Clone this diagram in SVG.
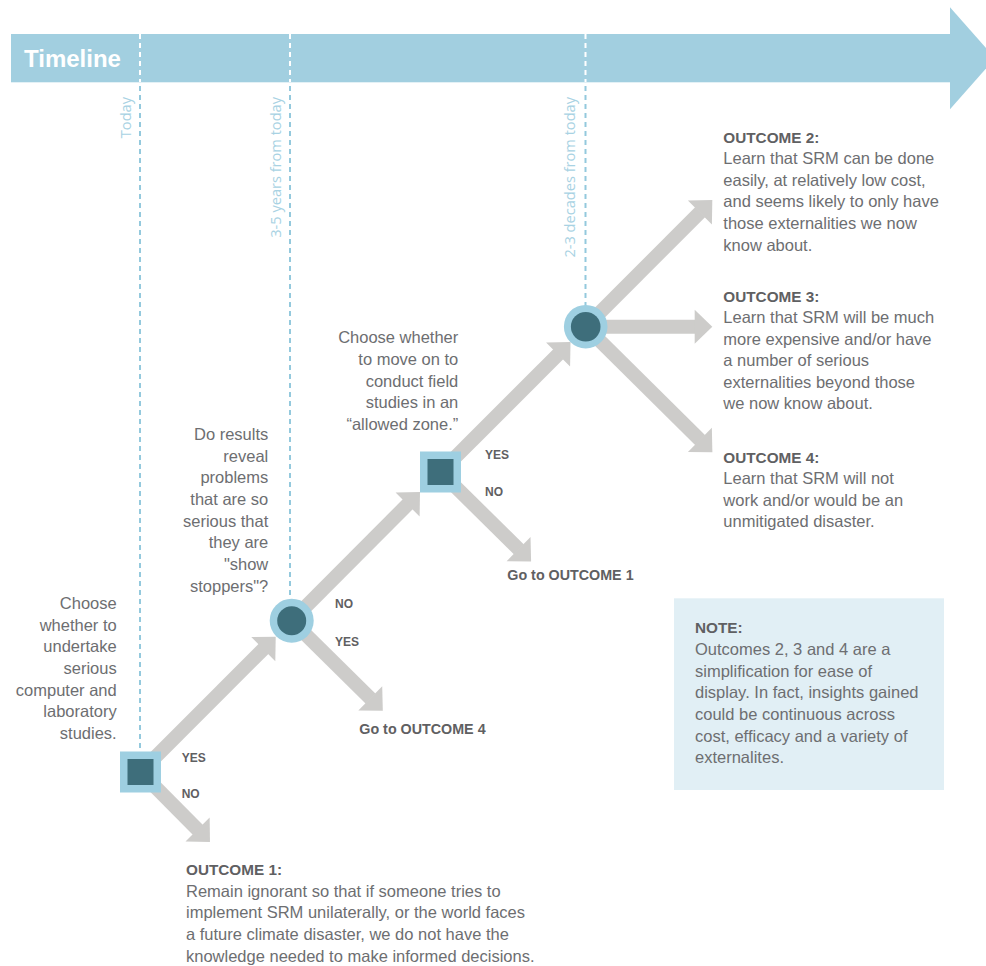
<svg xmlns="http://www.w3.org/2000/svg" width="986" height="966" viewBox="0 0 986 966">
<style>
  .body { font-family: "Liberation Sans", Arial, sans-serif; font-size: 16.5px; fill: #6d6e71; }
  .hdr { font-family: "Liberation Sans", Arial, sans-serif; font-size: 15.3px; font-weight: bold; fill: #5f6062; }
  .go { font-family: "Liberation Sans", Arial, sans-serif; font-size: 14.3px; font-weight: bold; fill: #5f6062; }
  .yn { font-family: "Liberation Sans", Arial, sans-serif; font-size: 12px; font-weight: bold; fill: #5f6062; }
  .time { font-family: "Open Sans", "Liberation Sans", sans-serif; font-size: 14.6px; fill: #a8d2e3; }
  .end { text-anchor: end; }
  .arrow { stroke: #cdccca; stroke-width: 14; fill: none; marker-end: url(#head); }
  .dashW { stroke: #ffffff; stroke-width: 2; stroke-dasharray: 5 4; }
  .dashB { stroke: #94c9dd; stroke-width: 2; stroke-dasharray: 5 4; }
  .outer { fill: #9ecfe1; }
  .inner { fill: #3e6e7b; }
</style>
<defs>
  <marker id="head" markerUnits="userSpaceOnUse" markerWidth="20" markerHeight="36" viewBox="-1 -18 20 36" refX="0" refY="0" orient="auto" overflow="visible">
    <path d="M-0.6,-17 L17,0 L-0.6,17 Z" fill="#cdccca"/>
  </marker>
</defs>

<g id="timeline">
  <rect x="11" y="34" width="940" height="48.3" fill="#a2cfe0"/>
  <polygon points="950,7.3 995,58.3 950,109.3" fill="#a2cfe0"/>
  <text x="24" y="67" font-family="'Liberation Sans', Arial, sans-serif" font-size="24" font-weight="bold" fill="#ffffff">Timeline</text>
  <line class="dashW" x1="140" y1="34" x2="140" y2="82"/>
  <line class="dashW" x1="290" y1="34" x2="290" y2="82"/>
  <line class="dashW" x1="585.5" y1="34" x2="585.5" y2="82"/>
  <line class="dashB" x1="140" y1="86" x2="140" y2="752"/>
  <line class="dashB" x1="290" y1="86" x2="290" y2="600"/>
  <line class="dashB" x1="585.5" y1="86" x2="585.5" y2="306"/>
  <text class="time end" transform="translate(130.5,97) rotate(-90)">Today</text>
  <text class="time end" transform="translate(280.5,97) rotate(-90)">3-5 years from today</text>
  <text class="time end" transform="translate(575,97) rotate(-90)">2-3 decades from today</text>
</g>

<g id="connectors">
  <line class="arrow" x1="140.5" y1="772" x2="263.7" y2="648.7"/>
  <line class="arrow" x1="140.5" y1="772" x2="198" y2="830"/>
  <line class="arrow" x1="291.7" y1="620.7" x2="408" y2="504"/>
  <line class="arrow" x1="291.7" y1="620.7" x2="370.7" y2="698.7"/>
  <line class="arrow" x1="440.5" y1="472" x2="558.5" y2="354"/>
  <line class="arrow" x1="440.5" y1="472" x2="519" y2="549.5"/>
  <line class="arrow" x1="585.7" y1="326.7" x2="700.3" y2="212"/>
  <line class="arrow" x1="585.7" y1="326.7" x2="695.3" y2="326.7"/>
  <line class="arrow" x1="585.7" y1="326.7" x2="700.3" y2="440.3"/>
</g>

<g id="node-decision1">
  <rect class="outer" x="120" y="751.5" width="41" height="41"/>
  <rect class="inner" x="127.5" y="759" width="26" height="26"/>
  <text class="body end" x="116.7" y="609">Choose</text>
  <text class="body end" x="116.7" y="630.7">whether to</text>
  <text class="body end" x="116.7" y="652.3">undertake</text>
  <text class="body end" x="116.7" y="674">serious</text>
  <text class="body end" x="116.7" y="695.7">computer and</text>
  <text class="body end" x="116.7" y="717.3">laboratory</text>
  <text class="body end" x="116.7" y="739">studies.</text>
  <text class="yn" x="181.7" y="761.7">YES</text>
  <text class="yn" x="181.7" y="797.7">NO</text>
</g>

<g id="node-chance1">
  <circle class="outer" cx="291.7" cy="620.7" r="22"/>
  <circle class="inner" cx="291.7" cy="620.7" r="14.5"/>
  <text class="body end" x="268.3" y="440">Do results</text>
  <text class="body end" x="268.3" y="461.7">reveal</text>
  <text class="body end" x="268.3" y="483.3">problems</text>
  <text class="body end" x="268.3" y="505">that are so</text>
  <text class="body end" x="268.3" y="526.7">serious that</text>
  <text class="body end" x="268.3" y="548.3">they are</text>
  <text class="body end" x="268.3" y="570">"show</text>
  <text class="body end" x="268.3" y="591.7">stoppers"?</text>
  <text class="yn" x="335" y="607.7">NO</text>
  <text class="yn" x="335" y="645.7">YES</text>
</g>

<g id="node-decision2">
  <rect class="outer" x="420" y="451.5" width="41" height="41"/>
  <rect class="inner" x="427.5" y="459" width="26" height="26"/>
  <text class="body end" x="458.3" y="343.3">Choose whether</text>
  <text class="body end" x="458.3" y="365">to move on to</text>
  <text class="body end" x="458.3" y="386.7">conduct field</text>
  <text class="body end" x="458.3" y="408.3">studies in an</text>
  <text class="body end" x="458.3" y="430">“allowed zone.”</text>
  <text class="yn" x="485" y="459.3">YES</text>
  <text class="yn" x="485" y="495.7">NO</text>
</g>

<g id="node-chance2">
  <circle class="outer" cx="585.7" cy="326.7" r="21.8"/>
  <circle class="inner" cx="585.7" cy="326.7" r="14.8"/>
</g>

<g id="goto-outcome4">
  <text class="go" x="359.3" y="734.3">Go to OUTCOME 4</text>
</g>
<g id="goto-outcome1">
  <text class="go" x="507.3" y="580">Go to OUTCOME 1</text>
</g>

<g id="outcome1">
  <text class="hdr" x="186" y="875">OUTCOME 1:</text>
  <text class="body" x="186" y="896.7">Remain ignorant so that if someone tries to</text>
  <text class="body" x="186" y="918.3">implement SRM unilaterally, or the world faces</text>
  <text class="body" x="186" y="940">a future climate disaster, we do not have the</text>
  <text class="body" x="186" y="961.7">knowledge needed to make informed decisions.</text>
</g>

<g id="outcome2">
  <text class="hdr" x="723.3" y="142.7">OUTCOME 2:</text>
  <text class="body" x="723.3" y="164">Learn that SRM can be done</text>
  <text class="body" x="723.3" y="185.7">easily, at relatively low cost,</text>
  <text class="body" x="723.3" y="207.3">and seems likely to only have</text>
  <text class="body" x="723.3" y="229">those externalities we now</text>
  <text class="body" x="723.3" y="250.7">know about.</text>
</g>

<g id="outcome3">
  <text class="hdr" x="723.3" y="301.7">OUTCOME 3:</text>
  <text class="body" x="723.3" y="323">Learn that SRM will be much</text>
  <text class="body" x="723.3" y="344.5">more expensive and/or have</text>
  <text class="body" x="723.3" y="366">a number of serious</text>
  <text class="body" x="723.3" y="387.7">externalities beyond those</text>
  <text class="body" x="723.3" y="409.3">we now know about.</text>
</g>

<g id="outcome4">
  <text class="hdr" x="723.3" y="462.7">OUTCOME 4:</text>
  <text class="body" x="723.3" y="484">Learn that SRM will not</text>
  <text class="body" x="723.3" y="505.7">work and/or would be an</text>
  <text class="body" x="723.3" y="527.3">unmitigated disaster.</text>
</g>

<g id="note">
  <rect x="674" y="598.3" width="270" height="191.7" fill="#e1eff5"/>
  <text class="hdr" x="695" y="633.3">NOTE:</text>
  <text class="body" x="695" y="655">Outcomes 2, 3 and 4 are a</text>
  <text class="body" x="695" y="676.7">simplification for ease of</text>
  <text class="body" x="695" y="698.3">display. In fact, insights gained</text>
  <text class="body" x="695" y="720">could be continuous across</text>
  <text class="body" x="695" y="741.7">cost, efficacy and a variety of</text>
  <text class="body" x="695" y="763.3">externalites.</text>
</g>
</svg>
